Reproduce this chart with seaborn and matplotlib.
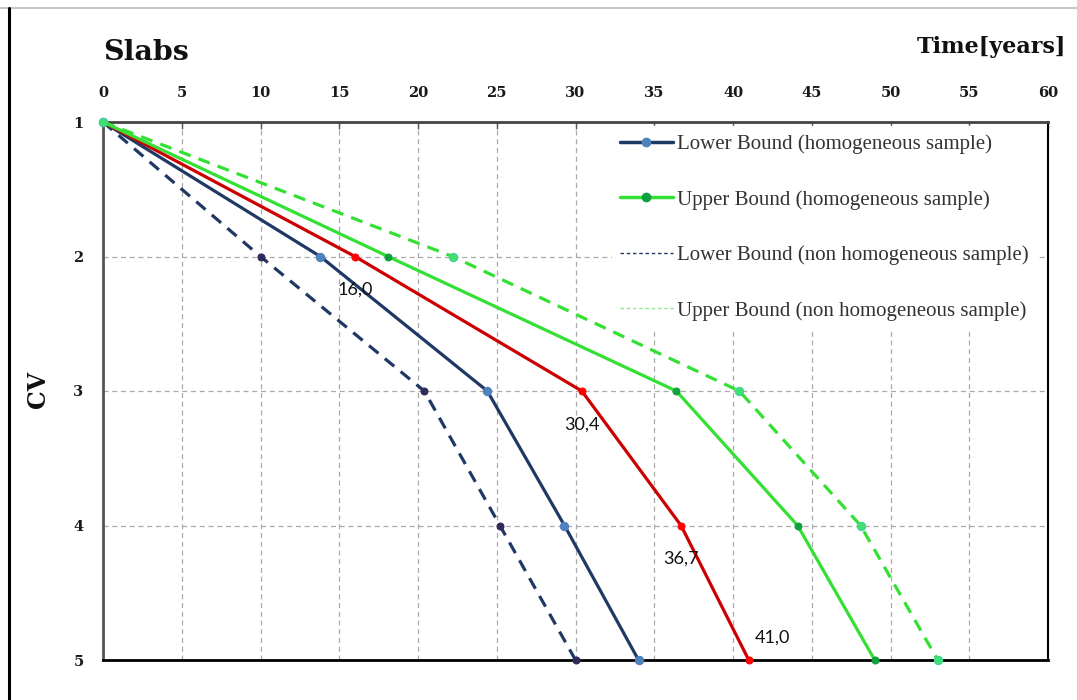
import matplotlib
matplotlib.use('Agg')
import matplotlib.pyplot as plt
from matplotlib.lines import Line2D
import seaborn as sns
import pandas as pd

# CV levels (y axis, inverted)
cv_levels = [1, 2, 3, 4, 5]

# time in years for each curve
lower_homog = [0, 13.8, 24.4, 29.3, 34.0]
upper_homog = [0, 18.1, 36.4, 44.1, 49.0]
lower_nonhomog = [0, 10.0, 20.4, 25.2, 30.0]
upper_nonhomog = [0, 22.2, 40.4, 48.1, 53.0]
mean_curve = [0, 16.0, 30.4, 36.7, 41.0]

x_ticks = list(range(0, 65, 5))

legend_labels = [
    'Lower Bound (homogeneous sample)',
    'Upper Bound (homogeneous sample)',
    'Lower Bound (non homogeneous sample)',
    'Upper Bound (non homogeneous sample)',
]

NAVY = '#1f3864'
GREEN = '#33e033'
RED = '#cc0000'

sns.set_theme(style='white')
plt.rcParams['font.family'] = ['DejaVu Serif']

fig = plt.figure(figsize=(10.77, 7), dpi=100)
ax = fig.add_axes([103 / 1077, 1 - 660 / 700, 945 / 1077, 538 / 700])

df = pd.DataFrame({'cv': cv_levels, 'lh': lower_homog, 'uh': upper_homog,
                   'ln': lower_nonhomog, 'un': upper_nonhomog, 'm': mean_curve})

lw = 2.3
common = dict(ax=ax, sort=False, lw=lw, legend=False, zorder=3, clip_on=False)
sns.lineplot(data=df, x='ln', y='cv', color=NAVY, linestyle=(0, (3.8, 2.6)),
             marker='o', markersize=5, markerfacecolor='#2e2a5a',
             markeredgecolor='#2e2a5a', **common)
sns.lineplot(data=df, x='lh', y='cv', color=NAVY, marker='o', markersize=6,
             markerfacecolor='#4f81bd', markeredgecolor='#4f81bd', **common)
sns.lineplot(data=df, x='m', y='cv', color=RED, marker='o', markersize=5,
             markerfacecolor='#ff0000', markeredgecolor='#ff0000', **common)
sns.lineplot(data=df, x='uh', y='cv', color=GREEN, marker='o', markersize=5,
             markerfacecolor='#10a040', markeredgecolor='#10a040', **common)
sns.lineplot(data=df, x='un', y='cv', color=GREEN, linestyle=(0, (3.8, 2.6)),
             marker='o', markersize=6, markerfacecolor='#40e070',
             markeredgecolor='#40d0a0', **common)

# value labels on the red curve
for i, (xv, yv) in enumerate(zip(mean_curve, cv_levels)):
    if i == 0:
        continue
    txt = f'{xv:.1f}'.replace('.', ',')
    if i == len(mean_curve) - 1:
        offset, ha = (4, 16), 'left'
    else:
        offset, ha = (0, -24), 'center'
    ax.annotate(txt, (xv, yv), xytext=offset, textcoords='offset points',
                ha=ha, va='center', fontsize=13, family='Lato', color='#111111')

ax.set_xlim(0, 60)
ax.set_ylim(5, 1)
ax.set_xticks(x_ticks)
ax.set_yticks(cv_levels)
ax.xaxis.tick_top()
ax.set_xlabel('')
ax.set_ylabel('')
ax.tick_params(axis='x', which='major', direction='in', length=5, width=1,
               color='#555555', top=True, bottom=False, pad=16,
               labelsize=10.5)
ax.tick_params(axis='y', length=0, pad=14, labelsize=10.5)
for lab in ax.get_xticklabels() + ax.get_yticklabels():
    lab.set_fontweight('bold')
    lab.set_color('#1a1a1a')

ax.grid(True, color='#aaaaaa', linestyle=(0, (4, 3)), linewidth=0.9)
ax.set_axisbelow(True)

ax.spines['top'].set_color('#444444')
ax.spines['top'].set_linewidth(2)
ax.spines['left'].set_color('#555555')
ax.spines['left'].set_linewidth(2)
ax.spines['bottom'].set_color('#000000')
ax.spines['bottom'].set_linewidth(2)
ax.spines['right'].set_color('#000000')
ax.spines['right'].set_linewidth(1.5)

# legend handles as they appear in the reference
handles = [
    Line2D([], [], color=NAVY, lw=2.5, marker='o', markersize=6,
           markerfacecolor='#4f81bd', markeredgecolor='#4f81bd'),
    Line2D([], [], color=GREEN, lw=2.5, marker='o', markersize=6,
           markerfacecolor='#10a040', markeredgecolor='#10a040'),
    Line2D([], [], color=NAVY, lw=1, linestyle=(0, (2.5, 2))),
    Line2D([], [], color='#90e890', lw=1, linestyle=(0, (2.5, 2))),
]
leg = ax.legend(handles, legend_labels, loc='upper right',
                bbox_to_anchor=(0.999, 1.012), frameon=True, facecolor='white',
                edgecolor='white', framealpha=1, handlelength=2.5,
                handletextpad=0.2, labelspacing=1.72, borderpad=0.4,
                prop={'family': 'Liberation Serif', 'size': 15})
leg.set_zorder(4)
for t in leg.get_texts():
    t.set_color('#333333')

fig.text(103 / 1077, 1 - 52 / 700, 'Slabs', ha='left', va='center',
         fontsize=20.5, fontweight='bold', color='#111111')
fig.text(1066 / 1077, 1 - 47 / 700, 'Time[years]', ha='right', va='center',
         fontsize=16, fontweight='bold', color='#111111')
fig.text(38 / 1077, 1 - 390 / 700, 'CV', ha='center', va='center',
         rotation=90, fontsize=17, fontweight='bold', color='#111111')

# page frame lines
fig.add_artist(Line2D([0, 1], [1 - 8 / 700, 1 - 8 / 700], transform=fig.transFigure,
                      color='#bbbbbb', lw=1.2))
fig.add_artist(Line2D([9 / 1077, 9 / 1077], [0, 1 - 8 / 700], transform=fig.transFigure,
                      color='#000000', lw=2.2))

fig.savefig('out.png', dpi=100)
